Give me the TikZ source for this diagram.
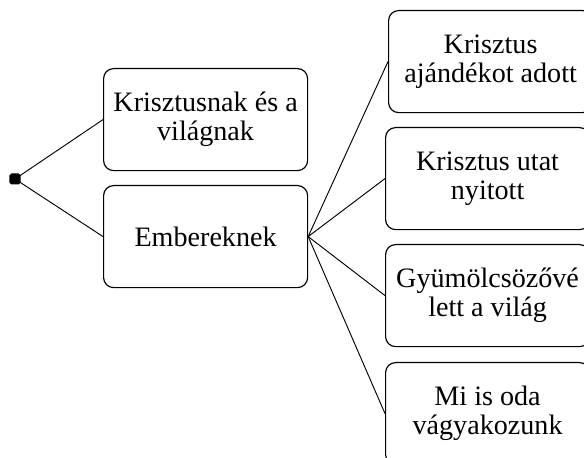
\documentclass[tikz,border=0pt]{standalone}
\usepackage{fontspec}
\setmainfont{Liberation Serif}
\begin{document}
\begin{tikzpicture}[x=0.03cm, y=-0.03cm,
    doboz/.style={draw, line width=1pt, rounded corners=0.3cm, minimum width=6.12cm, minimum height=3.06cm,
                  inner sep=2pt, align=center, anchor=north west, font=\fontsize{24}{25}\selectfont},
    ag/.style={line width=0.8pt}]
    \useasboundingbox (0,0) rectangle (584,458);

    % gyökér pont
    \node[fill, rounded corners=1.5pt, minimum size=0.33cm, inner sep=0pt] (gyoker) at (15,179) {};

    % első szint
    \node[doboz] (vilag) at (103,68) {Krisztusnak és a\\világnak};
    \node[doboz] (ember) at (103,185) {Embereknek};

    % második szint
    \node[doboz] (ajandek) at (388,10) {Krisztus\\ajándékot adott};
    \node[doboz] (ut) at (385,127) {Krisztus utat\\nyitott};
    \node[doboz] (gyumolcs) at (385,244) {Gyümölcsözővé\\lett a világ};
    \node[doboz] (vagy) at (385,362) {Mi is oda\\vágyakozunk};

    % ágak
    \draw[ag] (gyoker.center) -- (vilag.west);
    \draw[ag] (gyoker.center) -- (ember.west);
    \foreach \cel in {ajandek, ut, gyumolcs, vagy}
        \draw[ag] (ember.east) -- (\cel.west);
\end{tikzpicture}
\end{document}
